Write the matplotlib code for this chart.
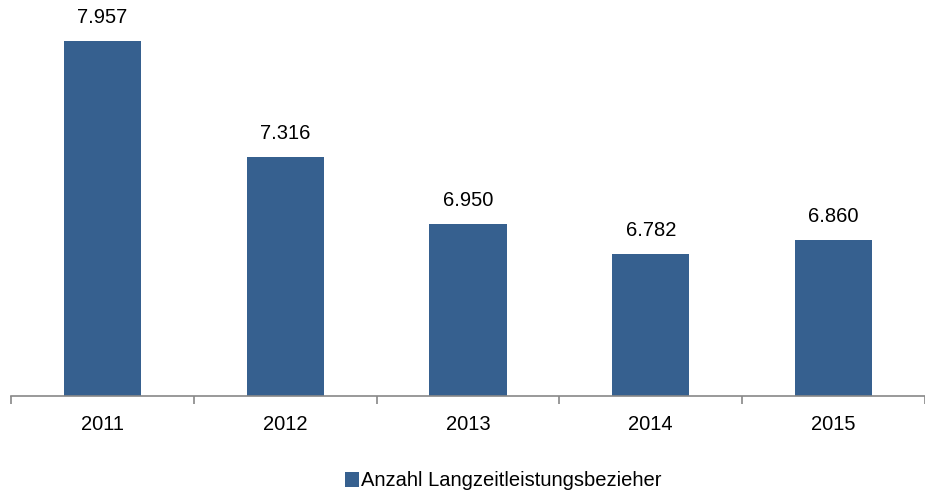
import matplotlib
matplotlib.use('Agg')
import matplotlib.pyplot as plt

plt.rcParams['font.family'] = ['Liberation Sans', 'DejaVu Sans']

years = ['2011', '2012', '2013', '2014', '2015']
values = [7.957, 7.316, 6.950, 6.782, 6.860]
labels = ['7.957', '7.316', '6.950', '6.782', '6.860']
series_name = 'Anzahl Langzeitleistungsbezieher'

bar_color = '#36608F'

fig = plt.figure(figsize=(9.25, 4.91), dpi=100)
ax = fig.add_axes([11 / 925, 1 - 396 / 491, 914 / 925, 363 / 491])

x = list(range(len(years)))
ax.bar(x, values, width=0.423, color=bar_color, label=series_name)
ax.set_ylim(6, 8)
ax.set_xlim(-0.5, -0.5 + 914 / 184.4)

for xi, v, lab in zip(x, values, labels):
    ax.annotate(lab, (xi, v), xytext=(0, 10), textcoords='offset points',
                ha='center', va='bottom', fontsize=14.5, annotation_clip=False)

for s in ['top', 'right', 'left']:
    ax.spines[s].set_visible(False)
ax.spines['bottom'].set_color('#888888')
ax.spines['bottom'].set_linewidth(1.2)
ax.set_yticks([])

# Striche an den Kategoriegrenzen, Beschriftung in der Mitte
ax.set_xticks([i - 0.5 for i in range(len(years) + 1)])
ax.set_xticklabels([])
ax.set_xticks(x, minor=True)
ax.set_xticklabels(years, minor=True, fontsize=14.5)
ax.tick_params(axis='x', which='major', length=6, width=1.2, color='#888888', direction='out')
ax.tick_params(axis='x', which='minor', length=0, pad=14)

fig.legend(loc='center', bbox_to_anchor=(503 / 925, 1 - 481 / 491), frameon=False,
           fontsize=14.5, handlelength=0.7, handleheight=0.7, handletextpad=0.1)

fig.savefig('out.png', dpi=100)
